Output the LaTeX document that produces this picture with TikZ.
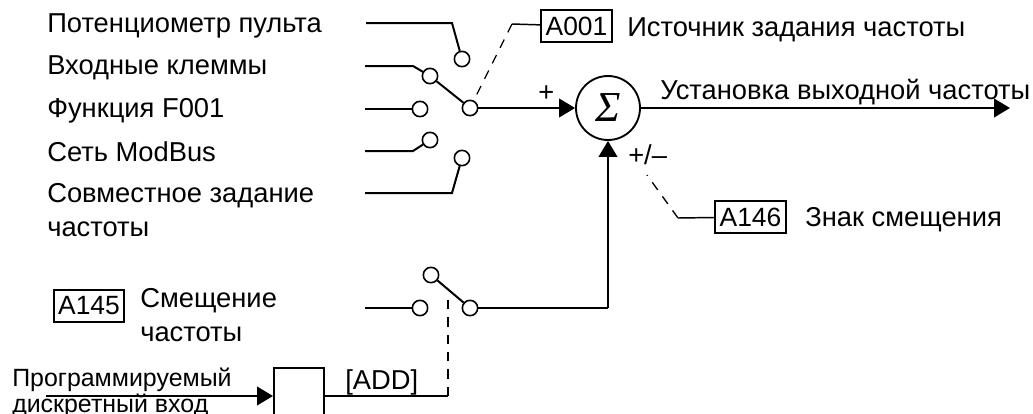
\documentclass[tikz,border=0pt]{standalone}
\usepackage{fontspec}
\setmainfont{Liberation Sans}
\newfontfamily\sigmafont{Liberation Serif}
\usetikzlibrary{arrows.meta}

\begin{document}
\begin{tikzpicture}[
  x=0.75pt, y=-0.75pt,
  wire/.style={line width=1.5pt, line join=miter},
  arrow/.style={wire, -{Triangle[length=12pt,width=14pt]}},
  link/.style={line width=1pt, dashed, dash pattern=on 7pt off 6pt},
  contact/.style={circle, draw, line width=1.2pt, fill=white, inner sep=0pt, minimum size=11.5pt},
  param/.style={draw, line width=1.3pt, inner sep=0pt, minimum width=53pt, minimum height=24pt, font=\fontsize{19.8}{24}\selectfont},
  label/.style={anchor=west, inner sep=0pt, align=left, font=\fontsize{20.5}{25.5}\selectfont},
  small/.style={anchor=west, inner sep=0pt, align=left, font=\fontsize{18.7}{19}\selectfont}
]
\useasboundingbox (0,0) rectangle (1033,414);

% input labels
\node[label] (pot) at (47,26) {Потенциометр пульта};
\node[label] (term) at (47,68) {Входные клеммы};
\node[label] (func) at (47,111) {Функция F001};
\node[label] (net) at (47,152) {Сеть ModBus};
\node[label] (joint) at (47,210) {Совместное задание\\частоты};
\node[label] (src) at (627,30) {Источник задания частоты};
\node[label] (setp) at (660,92) {Установка выходной частоты};
\node[label] (sign) at (805,220) {Знак смещения};
\node[label] (bias) at (140,315) {Смещение\\частоты};
\node[small] (prog) at (12,380) {Программируемый};
\node[small] (disc) at (12,406) {дискретный вход};
\node[label] (add) at (345,382) {[ADD]};
\node[label] (plus) at (538,94) {+};
\node[label] (sgn) at (628,155) {+/--};

% parameter boxes
\node[param] (a001) at (576.5,26) {A001};
\node[param] (a145) at (89,306) {A145};
\node[param] (a146) at (750.5,217) {A146};
\node[draw, line width=1.5pt, fill=white, minimum width=37.5pt, minimum height=46pt, inner sep=0pt] (gate) at (299,399) {};

% summing point
\node[circle, draw, line width=1.4pt, minimum size=48pt, inner sep=0pt, font=\sigmafont\itshape\fontsize{32}{32}\selectfont] (sum) at (608,108) {Σ};

% selector contacts
\node[contact] (c1) at (462,59) {};
\node[contact] (c2) at (430,76) {};
\node[contact] (c3) at (420,109) {};
\node[contact] (c4) at (430,140) {};
\node[contact] (c5) at (462,158) {};
\node[contact] (cout) at (470,108) {};
\node[contact] (b1) at (431,275) {};
\node[contact] (b2) at (420,308) {};
\node[contact] (bout) at (470,308) {};

% free ends
\coordinate (in1) at (366,23);
\coordinate (in2) at (365,66);
\coordinate (in3) at (365,109);
\coordinate (in4) at (365,151);
\coordinate (in5) at (365,193);
\coordinate (in6) at (365,308);
\coordinate (in7) at (46,396);
\coordinate (out) at (1010,108);
\coordinate (k1) at (512,24);
\coordinate (k2) at (678,218);
\coordinate (k3) at (647,175);
\coordinate (k4) at (448,396);
\coordinate (k5) at (448,296);
\coordinate (k6) at (608,308);

\draw[wire] (in1) -- (452,23) -- (c1);
\draw[wire] (in2) -- (413,66) -- (c2);
\draw[wire] (in3) -- (c3);
\draw[wire] (in4) -- (413,151) -- (c4);
\draw[wire] (in5) -- (452,193) -- (c5);
\draw[wire] (cout) -- (c2);
\draw[wire] (in6) -- (b2);
\draw[wire] (bout) -- (b1);
\draw[arrow] (cout) -- (sum);
\draw[arrow] (sum) -- (out);
\draw[wire] (bout) -- (k6);
\draw[arrow] (k6) -- (sum);
\draw[arrow] (in7) -- (gate.west |- in7);
\draw[wire] (gate.east |- k4) -- (k4);

% control links
\draw[wire, line width=1.1pt] (a001) -- (k1);
\draw[link] (k1) -- (cout);
\draw[wire, line width=1.1pt] (a146) -- (k2);
\draw[link] (k2) -- (k3);
\draw[link, line width=1.3pt] (k4) -- (k5);

\end{tikzpicture}
\end{document}
